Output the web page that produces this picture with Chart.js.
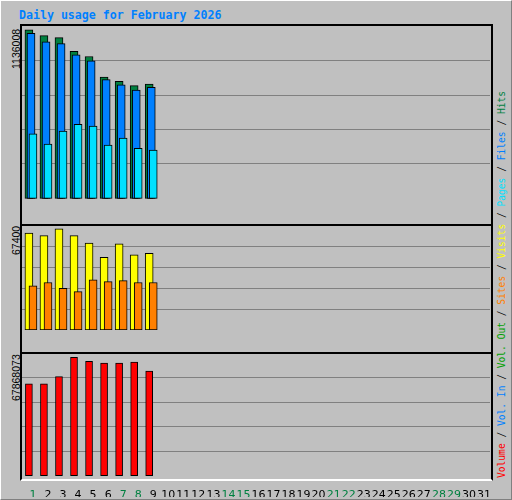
<!DOCTYPE html>
<html><head><meta charset="utf-8">
<script src="https://cdn.jsdelivr.net/npm/chart.js@4"></script>
<style>
body{margin:0;background:#fff}
#wrap{position:relative;width:510px;height:498px;background:#C0C0C0;border-top:1px solid #fff;border-left:1px solid #fff;border-right:1px solid #808080;border-bottom:1px solid #808080;overflow:hidden}
.panel{position:absolute;box-sizing:border-box;border-top:2px solid #000;border-left:2px solid #000;border-right:2px solid #000;border-bottom:2px solid #fff}
canvas{position:absolute}
.ylab{position:absolute;font:10.5px "Liberation Sans",sans-serif;color:#000;transform-origin:left top;transform:rotate(-90deg);white-space:nowrap;line-height:12px}
#title{position:absolute;left:18px;top:7px;font:bold 11.6px "DejaVu Sans Mono",monospace;color:#0080FF}
#legend{position:absolute;left:494px;top:477px;transform-origin:left top;transform:rotate(-90deg);white-space:nowrap;font:9.6px "DejaVu Sans Mono",monospace;line-height:13px}
</style></head><body>
<div id="wrap">
<div id="title">Daily usage for February 2026</div>
<div class="panel" style="left:19px;top:23px;width:473px;height:202px"></div>
<div class="panel" style="left:19px;top:223px;width:473px;height:130px"></div>
<div class="panel" style="left:19px;top:351px;width:473px;height:129px"></div>
<canvas id="c1" width="468" height="195" style="left:21px;top:26px;width:468px;height:195px"></canvas>
<canvas id="c2" width="468" height="123" style="left:21px;top:226px;width:468px;height:123px"></canvas>
<canvas id="c3" width="468" height="142" style="left:21px;top:354px;width:468px;height:142px"></canvas>
<div class="ylab" id="l1" style="left:9px;top:68px"></div>
<div class="ylab" id="l2" style="left:9px;top:254px"></div>
<div class="ylab" id="l3" style="left:9px;top:400px"></div>
<div id="legend"></div>
</div>
<script>
const days = Array.from({length:31},(_,i)=>i+1);
const weekendDays = [1,7,8,14,15,21,22,28,29];
const hits   = [1136008,1097200,1083900,991100,956300,817200,788300,759300,770900];
const files  = [1112800,1054900,1043300,967900,927400,799800,765100,730300,747700];
const pages  = [434700,365100,453800,498500,486900,359400,405700,336200,324600];
const visits = [64600,62900,67400,62900,57900,48500,57400,50100,51200];
const sites  = [29500,31700,27800,25600,33400,32300,32900,31700,31700];
const volume = [52700000,52700000,56800000,67868073,65600000,64500000,64500000,65100000,60000000];
const yMaxLabels = ["1136008","67400","67868073"];

document.getElementById('l1').textContent=yMaxLabels[0];
document.getElementById('l2').textContent=yMaxLabels[1];
document.getElementById('l3').textContent=yMaxLabels[2];
const leg=[["Volume","#FF0000"],["Vol. In","#0080FF"],["Vol. Out","#00A000"],["Sites","#FF8000"],["Visits","#FFFF00"],["Pages","#00E0FF"],["Files","#0080FF"],["Hits","#008040"]];
document.getElementById('legend').innerHTML=leg.map(l=>`<span style="color:${l[1]}">${l[0]}</span>`).join(' / ');

const GRID='#808080';
function ds(vals,off,color,w,order){return{data:vals.map((v,i)=>({x:days[i]+off,y:v})),backgroundColor:color,borderColor:'#000',borderWidth:1,borderSkipped:false,barThickness:w,grouped:false,order};}
function mk(id,datasets,min,max,step,showX){
  return new Chart(document.getElementById(id),{type:'bar',data:{datasets},
  options:{responsive:false,maintainAspectRatio:false,animation:false,devicePixelRatio:1,layout:{padding:0},
   plugins:{legend:{display:false},tooltip:{enabled:false}},
   scales:{
    x:{type:'linear',min:0.27,max:31.4,offset:false,display:showX,grid:{display:false},border:{display:false},
       afterBuildTicks:s=>{s.ticks=days.map(v=>({value:v}));},
       afterFit:s=>{s.height=20;s.paddingLeft=0;s.paddingRight=0;},
       ticks:{autoSkip:false,maxRotation:0,padding:4,font:{family:'"DejaVu Sans"',size:11},
         color:c=>weekendDays.includes(c.tick.value)?'#008040':'#000',callback:v=>String(v)}},
    y:{min,max,grid:{color:GRID,drawTicks:false},border:{display:false},
       afterBuildTicks:s=>{s.ticks=[1,2,3,4].map(k=>({value:k*step}));},
       afterFit:s=>{s.width=0;},ticks:{display:false}}
   }}});
}
mk('c1',[ds(hits,-0.27,'#008040',8,3),ds(files,-0.13,'#0080FF',8,2),ds(pages,0,'#00E0FF',8,1)],-24900,1155100,231840,false);
mk('c2',[ds(visits,-0.27,'#FFFF00',8,2),ds(sites,0,'#FF8000',8,1)],0,68680,13924,false);
mk('c3',[ds(volume,-0.27,'#FF0000',7,1)],-729000,69160000,14022000,true);
</script>
</body></html>
